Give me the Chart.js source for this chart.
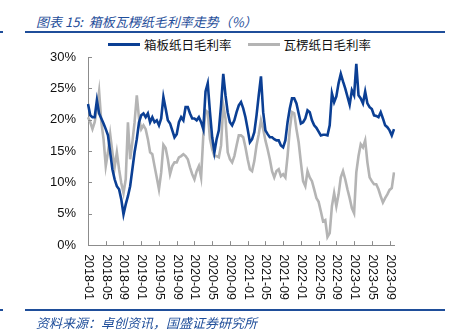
<!DOCTYPE html>
<html>
<head>
<meta charset="utf-8">
<script src="https://cdn.jsdelivr.net/npm/chart.js@4"></script>
<style>
    body { margin: 0; background: #fff; }
    #wrap { position: relative; width: 456px; height: 334px; overflow: hidden; font-family: "Noto Sans CJK SC", sans-serif; }
    #chart { position: absolute; left: 0; top: 0; }
    .title { position: absolute; left: 36px; top: 12px; font-size: 13px; font-style: italic; color: #1f4e9a; white-space: pre; }
    .source { position: absolute; left: 36px; top: 313px; font-size: 13px; font-style: italic; color: #1f4e9a; white-space: nowrap; }
    .rule { position: absolute; height: 2px; background: #1f4e9a; }
    #legend { position: absolute; left: 108px; top: 35px; display: flex; align-items: center; font-size: 12.5px; color: #111; white-space: nowrap; }
    #legend .item { display: flex; align-items: center; margin-right: 16px; }
    #legend .swatch { width: 32px; height: 3px; margin-right: 4px; }
</style>
</head>
<body>
<div id="wrap">
    <div class="title">图表 15:  箱板瓦楞纸毛利率走势（%）</div>
    <div class="rule" style="left:0;top:31px;width:3px"></div>
    <div class="rule" style="left:25px;top:31px;width:420px"></div>
    <div id="legend"></div>
    <canvas id="chart" width="456" height="334"></canvas>
    <div class="rule" style="left:0;top:309px;width:3px"></div>
    <div class="rule" style="left:25px;top:309px;width:420px"></div>
    <div class="source">资料来源：卓创资讯，国盛证券研究所</div>
</div>
<script>
// half-monthly points, 2018-01-01 .. 2023-10-01
const dates = [];
for (let y = 2018; y <= 2023; y++) {
    for (let m = 1; m <= 12; m++) {
        const mm = String(m).padStart(2, '0');
        dates.push(`${y}-${mm}-01`);
        if (y === 2023 && m === 10) break;
        dates.push(`${y}-${mm}-16`);
    }
}

const seriesNames = ['箱板纸日毛利率', '瓦楞纸日毛利率'];

// 箱板纸日毛利率 (%)
const boardMargin = [
    22.5, 20.7, 20.4, 20.4, 23.1, 21.0, 20.2, 19.4, 18.5, 17.5,
    14.8, 12.1, 10.5, 9.4, 8.9, 7.3, 4.9, 6.5, 7.8, 9.4,
    12.1, 14.8, 16.9, 19.6, 20.7, 21.0, 20.4, 21.0, 19.6, 20.4,
    19.6, 19.9, 19.1, 20.2, 23.6, 21.8, 19.9, 19.4, 18.3, 17.2,
    17.7, 19.6, 20.4, 19.9, 22.0, 22.0, 21.0, 20.2, 20.2, 19.9,
    20.4, 19.6, 18.5, 24.5, 25.8, 21.2, 17.2, 14.8, 16.9, 18.3,
    22.3, 27.3, 23.9, 21.2, 19.6, 19.1, 19.9, 21.2, 22.3, 22.8,
    21.8, 20.4, 18.5, 16.4, 16.9, 18.0, 20.7, 23.9, 26.9, 21.2,
    18.3, 17.7, 17.2, 17.2, 16.9, 16.7, 16.7, 15.9, 15.6, 16.7,
    19.6, 21.8, 23.4, 23.4, 22.6, 21.0, 19.4, 19.6, 20.2, 21.5,
    21.2, 19.9, 19.1, 18.7, 18.1, 17.5, 17.6, 17.6, 17.5, 19.1,
    24.2, 22.8, 23.7, 25.8, 27.3, 26.1, 25.0, 23.7, 22.4, 24.7,
    23.9, 28.9, 23.9, 23.4, 22.6, 24.5, 22.6, 22.0, 21.7, 20.7,
    20.6, 20.4, 21.2, 20.2, 19.1, 18.8, 18.3, 17.5, 18.5
];

// 瓦楞纸日毛利率 (%)
const corrugatedMargin = [
    20.4, 19.6, 18.5, 19.6, 21.8, 24.5, 19.6, 16.9, 12.6, 14.8,
    17.7, 14.8, 12.4, 14.8, 12.1, 9.9, 8.3, 10.5, 19.6, 13.7,
    16.4, 19.6, 23.9, 20.2, 18.5, 19.1, 18.5, 16.9, 14.8, 14.5,
    12.6, 10.8, 8.9, 11.6, 16.0, 15.5, 13.7, 11.3, 12.6, 13.2,
    13.2, 14.0, 14.2, 14.5, 14.2, 13.7, 12.4, 11.3, 10.5, 11.8,
    12.6, 10.8, 17.5, 21.5, 21.2, 16.9, 15.3, 14.2, 14.2, 14.0,
    15.9, 22.3, 20.2, 14.8, 13.7, 13.2, 14.2, 15.9, 17.5, 17.5,
    17.2, 15.6, 13.7, 12.1, 11.8, 13.4, 15.9, 17.7, 19.9, 18.5,
    16.7, 15.3, 13.7, 11.8, 10.8, 11.8, 12.1, 11.0, 11.3, 10.8,
    14.2, 18.5, 21.2, 21.0, 18.5, 16.4, 13.2, 10.2, 9.4, 11.8,
    10.8, 10.2, 8.9, 7.5, 6.9, 5.4, 3.8, 4.0, 1.3, 1.9,
    6.2, 8.3, 6.2, 8.1, 10.8, 11.8, 10.5, 8.9, 7.5, 5.9,
    5.1, 11.6, 14.2, 16.1, 15.6, 16.7, 13.2, 10.8, 10.2, 9.7,
    9.7, 8.9, 7.8, 6.8, 7.5, 8.1, 8.8, 9.1, 11.6
];

const colors = ['#0b3f94', '#b4b4b4'];
const axisColor = '#8c8c8c';
const latinFont = '"Liberation Sans", Arial, sans-serif';

// x labels every 4 months: 2018-01, 2018-05, 2018-09 ...
function tickLabel(label) {
    const month = +label.slice(5, 7);
    return label.endsWith('-01') && (month - 1) % 4 === 0 ? label.slice(0, 7) : null;
}

// inward tick marks + x labels reading top-to-bottom
const axisDecor = {
    id: 'axisDecor',
    afterDraw(chart) {
        const ctx = chart.ctx;
        const area = chart.chartArea;
        const xs = chart.scales.x, ys = chart.scales.y;
        ctx.save();
        ctx.strokeStyle = axisColor;
        ctx.lineWidth = 1;
        xs.ticks.forEach((t, i) => {
            if (t.label == null) return;
            const px = Math.round(xs.getPixelForTick(i)) + 0.5;
            ctx.beginPath();
            ctx.moveTo(px, area.bottom);
            ctx.lineTo(px, area.bottom - 4);
            ctx.stroke();
            ctx.save();
            ctx.translate(px, area.bottom + 9);
            ctx.rotate(Math.PI / 2);
            ctx.fillStyle = '#111';
            ctx.font = '12.5px ' + latinFont;
            ctx.textAlign = 'left';
            ctx.textBaseline = 'middle';
            ctx.fillText(t.label, 0, 0);
            ctx.restore();
        });
        ys.ticks.forEach((t, i) => {
            const py = Math.round(ys.getPixelForTick(i)) + 0.5;
            ctx.beginPath();
            ctx.moveTo(area.left, py);
            ctx.lineTo(area.left + 4, py);
            ctx.stroke();
        });
        ctx.restore();
    }
};

const chart = new Chart(document.getElementById('chart'), {
    type: 'line',
    plugins: [axisDecor],
    data: {
        labels: dates,
        datasets: [
            { label: seriesNames[0], data: boardMargin, borderColor: colors[0], backgroundColor: colors[0] },
            { label: seriesNames[1], data: corrugatedMargin, borderColor: colors[1], backgroundColor: colors[1] }
        ]
    },
    options: {
        responsive: false,
        animation: false,
        layout: { padding: { left: 38, top: 57, right: 62, bottom: 25 } },
        elements: {
            line: { borderWidth: 2.6, tension: 0 },
            point: { radius: 0 }
        },
        plugins: {
            legend: { display: false },
            tooltip: { enabled: false }
        },
        scales: {
            x: {
                offset: false,
                grid: { display: false, drawTicks: false },
                border: { display: true, color: axisColor },
                ticks: {
                    autoSkip: false,
                    minRotation: 90,
                    maxRotation: 90,
                    padding: 9,
                    color: 'rgba(0,0,0,0)',
                    font: { family: latinFont, size: 12.5 },
                    callback: function(val) { return tickLabel(this.getLabelForValue(val)); }
                }
            },
            y: {
                min: 0,
                max: 30,
                grid: { display: false, drawTicks: false },
                border: { display: true, color: axisColor },
                ticks: {
                    stepSize: 5,
                    padding: 12,
                    color: '#111',
                    font: { family: latinFont, size: 13 },
                    callback: v => v + '%'
                }
            }
        }
    }
});

// legend built from the datasets
const legend = document.getElementById('legend');
chart.data.datasets.forEach(ds => {
    const item = document.createElement('div');
    item.className = 'item';
    const sw = document.createElement('span');
    sw.className = 'swatch';
    sw.style.background = ds.borderColor;
    const tx = document.createElement('span');
    tx.textContent = ds.label;
    item.appendChild(sw);
    item.appendChild(tx);
    legend.appendChild(item);
});
</script>
</body>
</html>
